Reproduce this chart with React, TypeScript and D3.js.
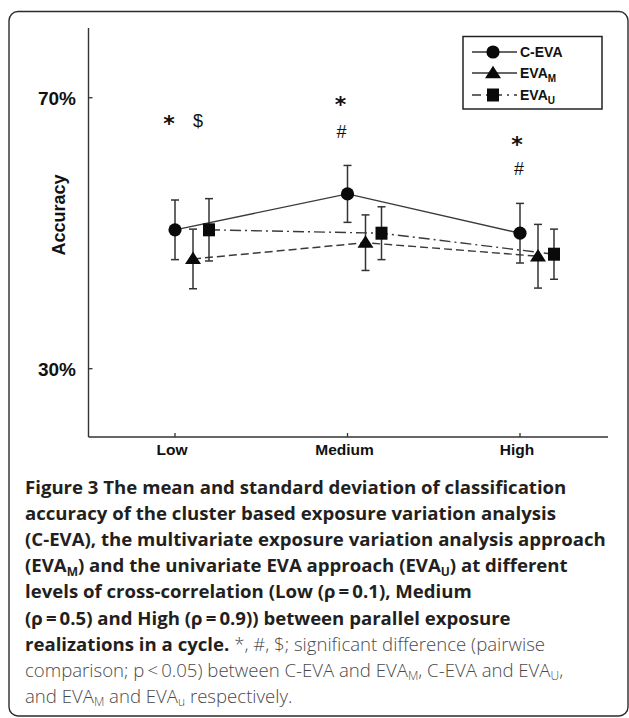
import React from "react";
import * as d3 from "d3";

// ---------- data ----------
const categories = ["Low", "Medium", "High"];
const seriesKeys = ["ceva", "evaM", "evaU"];
const cevaMean = [50.5, 55.8, 50.0];
const cevaSD = [4.4, 4.2, 4.4];
const evaMMean = [46.2, 48.6, 46.6];
const evaMSD = [4.4, 4.1, 4.7];
const evaUMean = [50.5, 50.0, 46.9];
const evaUSD = [4.6, 3.9, 3.7];
const yTickValues = [30, 70];
const yTickLabels = ["30%", "70%"];
const sigSymbols = ["*", "$", "*", "#", "*", "#"];
const sigCategories = ["Low", "Low", "Medium", "Medium", "High", "High"];
const sigLevels = [67.0, 66.6, 69.7, 64.9, 63.9, 59.5];

type Seg = { t: string; b?: boolean; sub?: boolean };
const captionLines: Seg[][] = [
  [{ t: "Figure 3 The mean and standard deviation of classification", b: true }],
  [{ t: "accuracy of the cluster based exposure variation analysis", b: true }],
  [{ t: "(C-EVA), the multivariate exposure variation analysis approach", b: true }],
  [
    { t: "(EVA", b: true },
    { t: "M", b: true, sub: true },
    { t: ") and the univariate EVA approach (EVA", b: true },
    { t: "U", b: true, sub: true },
    { t: ") at different", b: true },
  ],
  [{ t: "levels of cross-correlation (Low (\u03c1\u2009=\u20090.1), Medium", b: true }],
  [{ t: "(\u03c1\u2009=\u20090.5) and High (\u03c1\u2009=\u20090.9)) between parallel exposure", b: true }],
  [
    { t: "realizations in a cycle.", b: true },
    { t: " *, #, $; significant difference (pairwise" },
  ],
  [
    { t: "comparison; p\u2009<\u20090.05) between C-EVA and EVA" },
    { t: "M", sub: true },
    { t: ", C-EVA and EVA" },
    { t: "U", sub: true },
    { t: "," },
  ],
  [
    { t: "and EVA" },
    { t: "M", sub: true },
    { t: " and EVA" },
    { t: "u", sub: true },
    { t: " respectively." },
  ],
];

// ---------- layout ----------
const W = 629;
const H = 718;
const axisX = 88.5;
const axisTop = 28;
const axisBottom = 437;
const axisRight = 608;
const seriesOffsets = [0, 18, 34];
const sigOffsets = [-6, 23, -7, -6, -3, -1];

const x = d3.scalePoint<string>().domain(categories).range([175, 520]).padding(0);
const y = d3.scaleLinear().domain([30, 70]).range([368.7, 97.7]);

const means = [cevaMean, evaMMean, evaUMean];
const sds = [cevaSD, evaMSD, evaUSD];
const dashes = ["none", "8,4", "11,4,2,4"];

const lineGen = d3
  .line<[number, number]>()
  .x((d) => d[0])
  .y((d) => d[1]);

const FONT = "'Liberation Sans', Arial, sans-serif";
const CAP = "'Open Sans', sans-serif";
const CAP_SIZE = 18.6;

function Marker({ kind, cx, cy }: { kind: number; cx: number; cy: number }) {
  if (kind === 0) return <circle cx={cx} cy={cy} r={6.6} fill="#0a0a0a" />;
  if (kind === 1) {
    const sym = d3.symbol().type(d3.symbolTriangle).size(100)();
    return <path d={sym || ""} transform={`translate(${cx},${cy + 1}) scale(1.05,0.95)`} fill="#0a0a0a" />;
  }
  return <rect x={cx - 6} y={cy - 6.5} width={12} height={13} fill="#0a0a0a" />;
}

export default function App() {
  return (
    <div style={{ position: "absolute", left: 0, top: 0 }}>
      <svg width={W} height={H} style={{ display: "block", background: "#fff" }}>
        {/* frame */}
        <rect x={9} y={11.5} width={619} height={704.5} rx={9} ry={9} fill="#fff" stroke="#2b2b2b" strokeWidth={1.4} />

        {/* axes */}
        <line x1={axisX} x2={axisX} y1={axisTop} y2={axisBottom} stroke="#333" strokeWidth={1.4} />
        <line x1={axisX} x2={axisRight} y1={axisBottom} y2={axisBottom} stroke="#333" strokeWidth={1.4} />
        {yTickValues.map((v, i) => (
          <g key={"yt" + i}>
            <line x1={axisX} x2={axisX + 4} y1={y(v)} y2={y(v)} stroke="#333" strokeWidth={1.3} />
            <text x={76} y={y(v) + 6.8} textAnchor="end" fontFamily={FONT} fontWeight="bold" fontSize={19} fill="#111">
              {yTickLabels[i]}
            </text>
          </g>
        ))}
        {categories.map((c) => (
          <g key={"xt" + c}>
            <line x1={x(c)!} x2={x(c)!} y1={axisBottom} y2={axisBottom - 4} stroke="#333" strokeWidth={1.3} />
            <text x={x(c)! - 3} y={455} textAnchor="middle" fontFamily={FONT} fontWeight="bold" fontSize={15.5} fill="#111">
              {c}
            </text>
          </g>
        ))}
        <text
          transform="translate(65,215) rotate(-90)"
          textAnchor="middle"
          fontFamily={FONT}
          fontWeight="bold"
          fontSize={18}
          fill="#111"
        >
          Accuracy
        </text>

        {/* series lines */}
        {seriesKeys.map((k, s) => {
          const pts: [number, number][] = categories.map((c, i) => [x(c)! + seriesOffsets[s], y(means[s][i])]);
          return (
            <path
              key={"l" + k}
              d={lineGen(pts) || ""}
              fill="none"
              stroke="#3a3a3a"
              strokeWidth={1.4}
              strokeDasharray={dashes[s]}
            />
          );
        })}

        {/* error bars and markers */}
        {seriesKeys.map((k, s) =>
          categories.map((c, i) => {
            const cx = x(c)! + seriesOffsets[s];
            const m = means[s][i];
            const sd = sds[s][i];
            const yt = y(m + sd);
            const yb = y(m - sd);
            return (
              <g key={k + c}>
                <line x1={cx} x2={cx} y1={yt} y2={yb} stroke="#333" strokeWidth={1.5} />
                <line x1={cx - 4} x2={cx + 4} y1={yt} y2={yt} stroke="#333" strokeWidth={1.5} />
                <line x1={cx - 4} x2={cx + 4} y1={yb} y2={yb} stroke="#333" strokeWidth={1.5} />
                <Marker kind={s} cx={cx} cy={y(m)} />
              </g>
            );
          })
        )}

        {/* significance symbols */}
        {sigSymbols.map((sym, i) => {
          const cx = x(sigCategories[i])! + sigOffsets[i];
          const cy = y(sigLevels[i]);
          if (sym === "*") {
            return (
              <text key={"s" + i} x={cx} y={cy + 12.5} textAnchor="middle" fontFamily="'DejaVu Sans', sans-serif" fontWeight="bold" fontSize={22} fill="#111">
                *
              </text>
            );
          }
          return (
            <text key={"s" + i} x={cx} y={cy + 6.2} textAnchor="middle" fontFamily={FONT} fontSize={18} fill="#111">
              {sym}
            </text>
          );
        })}

        {/* legend */}
        <rect x={463} y={36.5} width={139} height={72.5} fill="#fff" stroke="#222" strokeWidth={1.5} />
        {[52, 73, 95].map((ry, s) => (
          <g key={"lg" + s}>
            <line x1={472} x2={517} y1={ry} y2={ry} stroke="#333" strokeWidth={1.4} strokeDasharray={s === 2 ? "9,5,2,5" : "none"} />
            <Marker kind={s} cx={493} cy={ry} />
            <text x={520} y={ry + 5} fontFamily={FONT} fontWeight="bold" fontSize={14} fill="#111">
              {s === 0 ? (
                "C-EVA"
              ) : (
                <>
                  EVA
                  <tspan fontSize={10} dy={4}>
                    {s === 1 ? "M" : "U"}
                  </tspan>
                </>
              )}
            </text>
          </g>
        ))}

        {/* caption */}
        {captionLines.map((line, li) => (
          <text key={"c" + li} x={25} y={494 + li * 26.1} fontFamily={CAP} fontSize={CAP_SIZE}>
            {line.map((seg, si) => {
              const prevSub = si > 0 && line[si - 1].sub;
              const dy = seg.sub ? 3.5 : prevSub ? -3.5 : 0;
              return (
                <tspan
                  key={si}
                  dy={dy || undefined}
                  fontWeight={seg.b ? 700 : 300}
                  fill={seg.b ? "#231f20" : "#4a4a4a"}
                  fontSize={seg.sub ? 12 : CAP_SIZE}
                >
                  {seg.t}
                </tspan>
              );
            })}
          </text>
        ))}
      </svg>
    </div>
  );
}
